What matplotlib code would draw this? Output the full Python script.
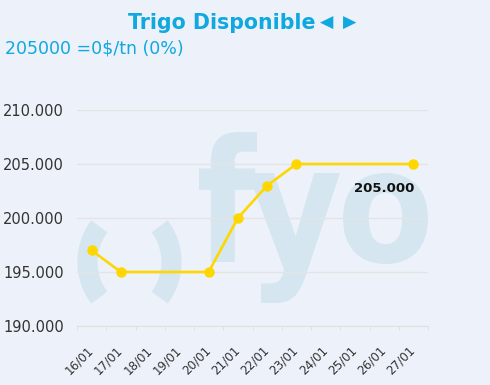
import matplotlib.pyplot as plt
from matplotlib.ticker import FuncFormatter
from matplotlib.patches import Arc, PathPatch
from matplotlib.textpath import TextPath
from matplotlib.font_manager import FontProperties
from matplotlib.transforms import Affine2D, ScaledTranslation

# categorias del eje x (dias)
labels = ['16/01', '17/01', '18/01', '19/01', '20/01', '21/01',
          '22/01', '23/01', '24/01', '25/01', '26/01', '27/01']

# puntos con dato
point_dates = ['16/01', '17/01', '20/01', '21/01', '22/01', '23/01', '27/01']
point_values = [197000, 195000, 195000, 200000, 203000, 205000, 205000]

title = 'Trigo Disponible'
subtitle = '205000 =0$/tn (0%)'
last_label = '205.000'

bg = '#edf1f9'
cyan = '#0fa8e0'
gold = '#ffd700'
wm = '#d5e6f0'

W, H = 490, 385
fig = plt.figure(figsize=(W / 100, H / 100), dpi=100, facecolor=bg)

# capa de fondo en pixeles para la marca de agua
bgax = fig.add_axes([0, 0, 1, 1], facecolor=bg, zorder=0)
bgax.set_xlim(0, W)
bgax.set_ylim(H, 0)
bgax.axis('off')

# parentesis
for cx, a0, a1 in [(137.5, 137, 223), (121.5, -43, 43)]:
    bgax.add_patch(Arc((cx, 262), 100, 110, theta1=a0, theta2=a1,
                       color=wm, linewidth=14.5, capstyle='butt'))

# letras "fyo" ajustadas a su caja
fp = FontProperties(family='DejaVu Sans', weight='bold')
for ch, (x0, x1, y0, y1) in [('f', (199, 257, 132, 262)),
                             ('y', (248, 340, 173, 303)),
                             ('o', (343, 428, 173, 264))]:
    tp = TextPath((0, 0), ch, size=100, prop=fp)
    ext = tp.get_extents()
    tr = (Affine2D().translate(-ext.x0, -ext.y1)
          .scale((x1 - x0) / ext.width, -(y1 - y0) / ext.height)
          .translate(x0, y0))
    bgax.add_patch(PathPatch(tr.transform_path(tp), color=wm, lw=0))

ax = fig.add_axes([77 / W, 1 - 326 / H, 351 / W, 216 / H], facecolor='none', zorder=1)

xs = [labels.index(d) for d in point_dates]
ax.plot(xs, point_values, color=gold, linewidth=1.9, marker='o', markersize=6.5,
        zorder=3, clip_on=False)

ax.set_xlim(-0.5, len(labels) - 0.5)
ax.set_ylim(190000, 210000)
ax.set_yticks([190000, 195000, 200000, 205000, 210000])
ax.yaxis.set_major_formatter(FuncFormatter(lambda v, p: f'{int(v):,}'.replace(',', '.')))
ax.set_xticks(range(len(labels)))
ax.set_xticklabels(labels, rotation=45, ha='right', va='center', rotation_mode='anchor')
ax.set_xticks([i - 0.5 for i in range(len(labels) + 1)], minor=True)
off = ScaledTranslation(4 / 100, 0, fig.dpi_scale_trans)
for t in ax.get_xticklabels():
    t.set_transform(t.get_transform() + off)

ax.grid(axis='y', color='#e4e4e4', linewidth=1)
ax.set_axisbelow(True)
for s in ['top', 'right', 'left']:
    ax.spines[s].set_visible(False)
ax.spines['bottom'].set_color('#e0e0e0')
ax.tick_params(axis='y', length=0, labelsize=10.5, labelcolor='#333333', pad=9.4)
ax.tick_params(axis='x', which='major', length=0, labelsize=8.6, labelcolor='#333333', pad=15.8)
ax.tick_params(axis='x', which='minor', length=3, color='#e0e0e0', direction='out')

ax.annotate(last_label, (xs[-1], point_values[-1]), xytext=(0.7, -13),
            textcoords='offset points', ha='right', va='top', fontsize=9.5,
            fontweight='bold', color='#111111', zorder=4)

fig.text(128 / W, 1 - 23 / H, title, fontsize=14.8, fontweight='bold', color=cyan,
         ha='left', va='center')
fig.text(326.5 / W, 1 - 22.5 / H, '◀', fontsize=12.5, color=cyan, ha='center', va='center')
fig.text(350 / W, 1 - 22.5 / H, '▶', fontsize=12.5, color=cyan, ha='center', va='center')
fig.text(5 / W, 1 - 49 / H, subtitle, fontsize=12.5, color=cyan,
         ha='left', va='center')

fig.savefig('out.png', dpi=100, facecolor=bg)
